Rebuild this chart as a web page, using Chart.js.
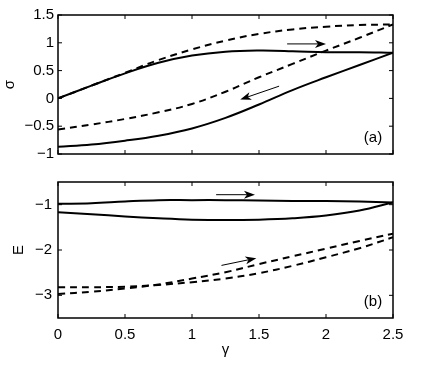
<!DOCTYPE html>
<html>
<head>
<meta charset="utf-8">
<script src="https://cdn.jsdelivr.net/npm/chart.js@4.4.1/dist/chart.umd.min.js"></script>
<style>
  body { margin: 0; background: #fff; }
  #wrap { position: relative; width: 436px; height: 369px; }
  #topBox { position: absolute; left: 0; top: 0; }
  #botBox { position: absolute; left: 0; top: 167px; }
</style>
</head>
<body>
<div id="wrap">
  <div id="topBox"><canvas id="chartA" width="436" height="167"></canvas></div>
  <div id="botBox"><canvas id="chartB" width="436" height="202"></canvas></div>
</div>
<script>
// gamma grid shared by every curve
const gamma = [0, 0.25, 0.5, 0.75, 1.0, 1.25, 1.5, 1.75, 2.0, 2.25, 2.5];

// panel (a): sigma
const sigmaSolidUp  = [0, 0.23, 0.45, 0.64, 0.77, 0.84, 0.86, 0.85, 0.83, 0.83, 0.82];
const sigmaSolidLow = [-0.87, -0.83, -0.76, -0.67, -0.54, -0.35, -0.11, 0.15, 0.38, 0.6, 0.82];
const sigmaDashUp   = [0, 0.23, 0.46, 0.69, 0.88, 1.04, 1.16, 1.24, 1.29, 1.32, 1.33];
const sigmaDashLow  = [-0.56, -0.47, -0.37, -0.25, -0.1, 0.12, 0.38, 0.62, 0.86, 1.09, 1.33];

// panel (b): E
const eSolidUp  = [-0.98, -0.97, -0.93, -0.9, -0.9, -0.9, -0.91, -0.92, -0.92, -0.93, -0.95];
const eSolidLow = [-1.17, -1.21, -1.26, -1.3, -1.33, -1.34, -1.33, -1.3, -1.24, -1.13, -0.95];
const eDashA    = [-2.97, -2.92, -2.85, -2.76, -2.63, -2.49, -2.31, -2.14, -1.97, -1.8, -1.64];
const eDashB    = [-2.82, -2.82, -2.81, -2.77, -2.71, -2.63, -2.51, -2.35, -2.16, -1.96, -1.72];

// tick labels
const gammaTicks = [0, 0.5, 1, 1.5, 2, 2.5];
const sigmaTicks = [-1, -0.5, 0, 0.5, 1, 1.5];
const eTicks = [-3, -2, -1];

// arrows in data coords [x0, y0, x1, y1]
const sigmaArrows = [[1.71, 0.98, 2.0, 0.98], [1.65, 0.22, 1.36, -0.02]];
const eArrows = [[1.18, -0.78, 1.47, -0.78], [1.22, -2.34, 1.48, -2.18]];

const FONT = '"Liberation Sans", Arial, sans-serif';

function pts(ys) {
    return gamma.map((g, i) => ({ x: g, y: ys[i] }));
}

function line(ys, dashed) {
    return {
        data: pts(ys),
        borderColor: '#000',
        borderWidth: 2,
        borderDash: dashed ? [7, 5] : [],
        pointRadius: 0,
        tension: 0.4,
        fill: false
    };
}

function fmt(v) {
    return String(v).replace('-', '\u2212');
}

function drawArrow(ctx, x0, y0, x1, y1) {
    const dx = x1 - x0, dy = y1 - y0;
    const len = Math.hypot(dx, dy);
    const ux = dx / len, uy = dy / len;
    const nx = -uy, ny = ux;
    const L = 11, W = 4, notch = 3;
    ctx.beginPath();
    ctx.moveTo(x0, y0);
    ctx.lineTo(x1 - (L - notch) * ux, y1 - (L - notch) * uy);
    ctx.lineWidth = 1;
    ctx.stroke();
    ctx.beginPath();
    ctx.moveTo(x1, y1);
    ctx.lineTo(x1 - L * ux + W * nx, y1 - L * uy + W * ny);
    ctx.lineTo(x1 - (L - notch) * ux, y1 - (L - notch) * uy);
    ctx.lineTo(x1 - L * ux - W * nx, y1 - L * uy - W * ny);
    ctx.closePath();
    ctx.fill();
}

// box, inward ticks on all four sides, arrows and panel label
const framePlugin = {
    id: 'frame',
    afterDatasetsDraw(chart, args, opts) {
        const { ctx, chartArea: a, scales: { x, y } } = chart;
        ctx.save();
        ctx.strokeStyle = '#000';
        ctx.fillStyle = '#000';
        ctx.lineWidth = 1;
        const tk = 4;
        x.ticks.forEach(t => {
            const px = x.getPixelForValue(t.value);
            ctx.beginPath();
            ctx.moveTo(px, a.bottom); ctx.lineTo(px, a.bottom - tk);
            ctx.moveTo(px, a.top); ctx.lineTo(px, a.top + tk);
            ctx.stroke();
        });
        y.ticks.forEach(t => {
            const py = y.getPixelForValue(t.value);
            ctx.beginPath();
            ctx.moveTo(a.left, py); ctx.lineTo(a.left + tk, py);
            ctx.moveTo(a.right, py); ctx.lineTo(a.right - tk, py);
            ctx.stroke();
        });
        ctx.lineWidth = 1.5;
        ctx.strokeRect(a.left, a.top, a.right - a.left, a.bottom - a.top);

        (opts.arrows || []).forEach(ar => {
            drawArrow(ctx,
                x.getPixelForValue(ar[0]), y.getPixelForValue(ar[1]),
                x.getPixelForValue(ar[2]), y.getPixelForValue(ar[3]));
        });

        ctx.font = '15px ' + FONT;
        ctx.textAlign = 'center';
        ctx.textBaseline = 'middle';
        ctx.fillText(opts.label, a.right - 20, a.bottom - 16);
        ctx.restore();
    }
};

function makeOptions(cfg) {
    return {
        responsive: false,
        animation: false,
        layout: { padding: { left: 0, right: 43, top: cfg.padTop, bottom: 0 } },
        plugins: {
            legend: { display: false },
            tooltip: { enabled: false },
            frame: { label: cfg.label, arrows: cfg.arrows }
        },
        scales: {
            x: {
                type: 'linear',
                min: 0,
                max: 2.5,
                grid: { display: false, drawTicks: false },
                border: { display: false },
                afterBuildTicks: s => { s.ticks = gammaTicks.map(v => ({ value: v })); },
                afterFit: s => { s.height = cfg.xHeight; },
                ticks: {
                    display: cfg.showX,
                    padding: 8,
                    color: '#000',
                    font: { family: FONT, size: 15 },
                    maxRotation: 0,
                    callback: v => fmt(v)
                },
                title: {
                    display: cfg.showX,
                    text: 'γ',
                    color: '#000',
                    font: { family: FONT, size: 15 },
                    padding: { top: 0, bottom: 9.7 }
                }
            },
            y: {
                type: 'linear',
                min: cfg.yMin,
                max: cfg.yMax,
                grid: { display: false, drawTicks: false },
                border: { display: false },
                afterBuildTicks: s => { s.ticks = cfg.yTicks.map(v => ({ value: v })); },
                afterFit: s => { s.width = 58; },
                ticks: {
                    padding: cfg.yPad,
                    color: '#000',
                    font: { family: FONT, size: 15 },
                    callback: v => fmt(v)
                },
                title: {
                    display: true,
                    text: cfg.yTitle,
                    color: '#000',
                    font: { family: FONT, size: 15 },
                    padding: { top: cfg.titlePad, bottom: 0 }
                }
            }
        }
    };
}

new Chart(document.getElementById('chartA').getContext('2d'), {
    type: 'line',
    data: {
        datasets: [
            line(sigmaDashUp, true),
            line(sigmaDashLow, true),
            line(sigmaSolidUp, false),
            line(sigmaSolidLow, false)
        ]
    },
    options: makeOptions({
        padTop: 15, xHeight: 5, showX: false,
        yMin: -1, yMax: 1.5, yTicks: sigmaTicks, yPad: 4,
        yTitle: 'σ', titlePad: 0.6,
        label: '(a)', arrows: sigmaArrows
    }),
    plugins: [framePlugin]
});

new Chart(document.getElementById('chartB').getContext('2d'), {
    type: 'line',
    data: {
        datasets: [
            line(eDashA, true),
            line(eDashB, true),
            line(eSolidUp, false),
            line(eSolidLow, false)
        ]
    },
    options: makeOptions({
        padTop: 5, xHeight: 51, showX: true,
        yMin: -3.5, yMax: -0.5, yTicks: eTicks, yPad: 6,
        yTitle: 'E', titlePad: 9.5,
        label: '(b)', arrows: eArrows
    }),
    plugins: [framePlugin]
});
</script>
</body>
</html>
